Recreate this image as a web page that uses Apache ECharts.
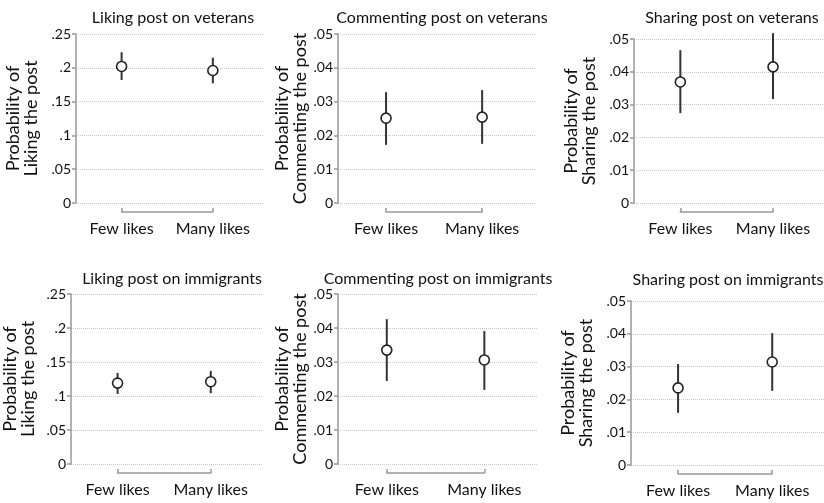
<!DOCTYPE html>
<html>
<head>
<meta charset="utf-8">
<script src="https://cdn.jsdelivr.net/npm/echarts@6/dist/echarts.min.js"></script>
<style>
  html, body { margin: 0; padding: 0; background: #fff; }
  #chart { width: 824px; height: 503px; }
</style>
</head>
<body>
<div id="chart"></div>
<script>
  // data
  var categories = ['Few likes', 'Many likes'];
  var titles = [
    'Liking post on veterans', 'Commenting post on veterans', 'Sharing post on veterans',
    'Liking post on immigrants', 'Commenting post on immigrants', 'Sharing post on immigrants'
  ];
  var yNames = [
    'Probability of\nLiking the post', 'Probability of\nCommenting the post', 'Probability of\nSharing the post',
    'Probability of\nLiking the post', 'Probability of\nCommenting the post', 'Probability of\nSharing the post'
  ];
  var yMax = [0.25, 0.05, 0.05, 0.25, 0.05, 0.05];
  var yStep = [0.05, 0.01, 0.01, 0.05, 0.01, 0.01];
  var estimate = [[0.202, 0.196], [0.0251, 0.0254], [0.0369, 0.0415], [0.119, 0.121], [0.0335, 0.0306], [0.0235, 0.0314]];
  var lower = [[0.182, 0.177], [0.0172, 0.0175], [0.0274, 0.0317], [0.103, 0.104], [0.0244, 0.0218], [0.0159, 0.0226]];
  var upper = [[0.223, 0.215], [0.0328, 0.0334], [0.0466, 0.0518], [0.134, 0.137], [0.0426, 0.0391], [0.0308, 0.0402]];

  // panel boxes: axis x, top y, zero y, right x, name gap, title centre x/y
  var panels = [
    {l: 76, t: 34, b: 203, r: 263, gap: 36, tx: 168, ty: 15},
    {l: 338, t: 34, b: 203, r: 535, gap: 19, tx: 437, ty: 15},
    {l: 634, t: 39, b: 203, r: 824, gap: 36, tx: 727, ty: 15},
    {l: 71, t: 294, b: 464, r: 262, gap: 34, tx: 167, ty: 276},
    {l: 338, t: 294, b: 464, r: 538, gap: 19, tx: 433, ty: 276},
    {l: 631, t: 301, b: 465, r: 824, gap: 36, tx: 723, ty: 277}
  ];

  var FONT = 'Lato, "DejaVu Sans", sans-serif';
  var xMin = 0.5, xMax = 2.55;

  var chart = echarts.init(document.getElementById('chart'));
  var grid = [], xAxis = [], yAxis = [], series = [], title = [];

  panels.forEach(function (p, i) {
    var w = p.r - p.l;
    var unit = w / (xMax - xMin);
    // plot grid
    grid.push({left: p.l, top: p.t, width: w, height: p.b - p.t});
    // bracket grid under the plot, from first to last category
    grid.push({left: p.l + (1 - xMin) * unit, top: p.b + 8, width: unit, height: 1});

    xAxis.push({
      gridIndex: 2 * i, type: 'value', min: xMin, max: xMax,
      show: false
    });
    xAxis.push({
      gridIndex: 2 * i + 1, type: 'value', min: 1, max: 2, interval: 1,
      axisLine: {show: true, lineStyle: {color: '#999', width: 1.5}},
      axisTick: {show: true, inside: true, length: 4, lineStyle: {color: '#999', width: 1.5}},
      splitLine: {show: false},
      axisLabel: {
        margin: 9, fontSize: 16, color: '#111', fontFamily: FONT,
        formatter: function (v) { return categories[Math.round(v) - 1]; }
      }
    });

    yAxis.push({
      gridIndex: 2 * i, type: 'value', min: 0, max: yMax[i], interval: yStep[i],
      name: yNames[i], nameLocation: 'middle', nameGap: p.gap,
      nameTextStyle: {fontSize: 18, lineHeight: 18, color: '#111', fontFamily: FONT},
      axisLine: {show: true, lineStyle: {color: '#999', width: 1.5}},
      axisTick: {show: true, length: 4, lineStyle: {color: '#999', width: 1.5}},
      splitLine: {show: true, lineStyle: {color: '#c8c8c8', type: 'dotted', width: 1}},
      axisLabel: {
        margin: 5, fontSize: 14, color: '#111', fontFamily: FONT,
        formatter: function (v) {
          if (v === 0) return '0';
          return String(+v.toFixed(3)).replace(/^0/, '');
        }
      }
    });
    yAxis.push({gridIndex: 2 * i + 1, type: 'value', show: false});

    title.push({
      text: titles[i], left: p.tx, top: p.ty - 10, textAlign: 'center',
      textStyle: {fontSize: 16, fontWeight: 'normal', color: '#111', fontFamily: FONT}
    });

    var ci = categories.map(function (c, k) { return [k + 1, lower[i][k], upper[i][k]]; });
    var pts = categories.map(function (c, k) { return [k + 1, estimate[i][k]]; });

    series.push({
      type: 'custom', xAxisIndex: 2 * i, yAxisIndex: 2 * i, clip: false, z: 2,
      data: ci,
      renderItem: function (params, api) {
        var a = api.coord([api.value(0), api.value(1)]);
        var b = api.coord([api.value(0), api.value(2)]);
        return {
          type: 'line',
          shape: {x1: a[0], y1: a[1], x2: b[0], y2: b[1]},
          style: {stroke: '#333', lineWidth: 2}
        };
      }
    });
    series.push({
      type: 'scatter', xAxisIndex: 2 * i, yAxisIndex: 2 * i, z: 3,
      symbol: 'circle', symbolSize: 10,
      itemStyle: {color: '#fff', borderColor: '#222', borderWidth: 1.6, opacity: 1},
      data: pts
    });
  });

  chart.setOption({
    animation: false,
    backgroundColor: '#fff',
    title: title,
    grid: grid,
    xAxis: xAxis,
    yAxis: yAxis,
    series: series
  });
</script>
</body>
</html>
